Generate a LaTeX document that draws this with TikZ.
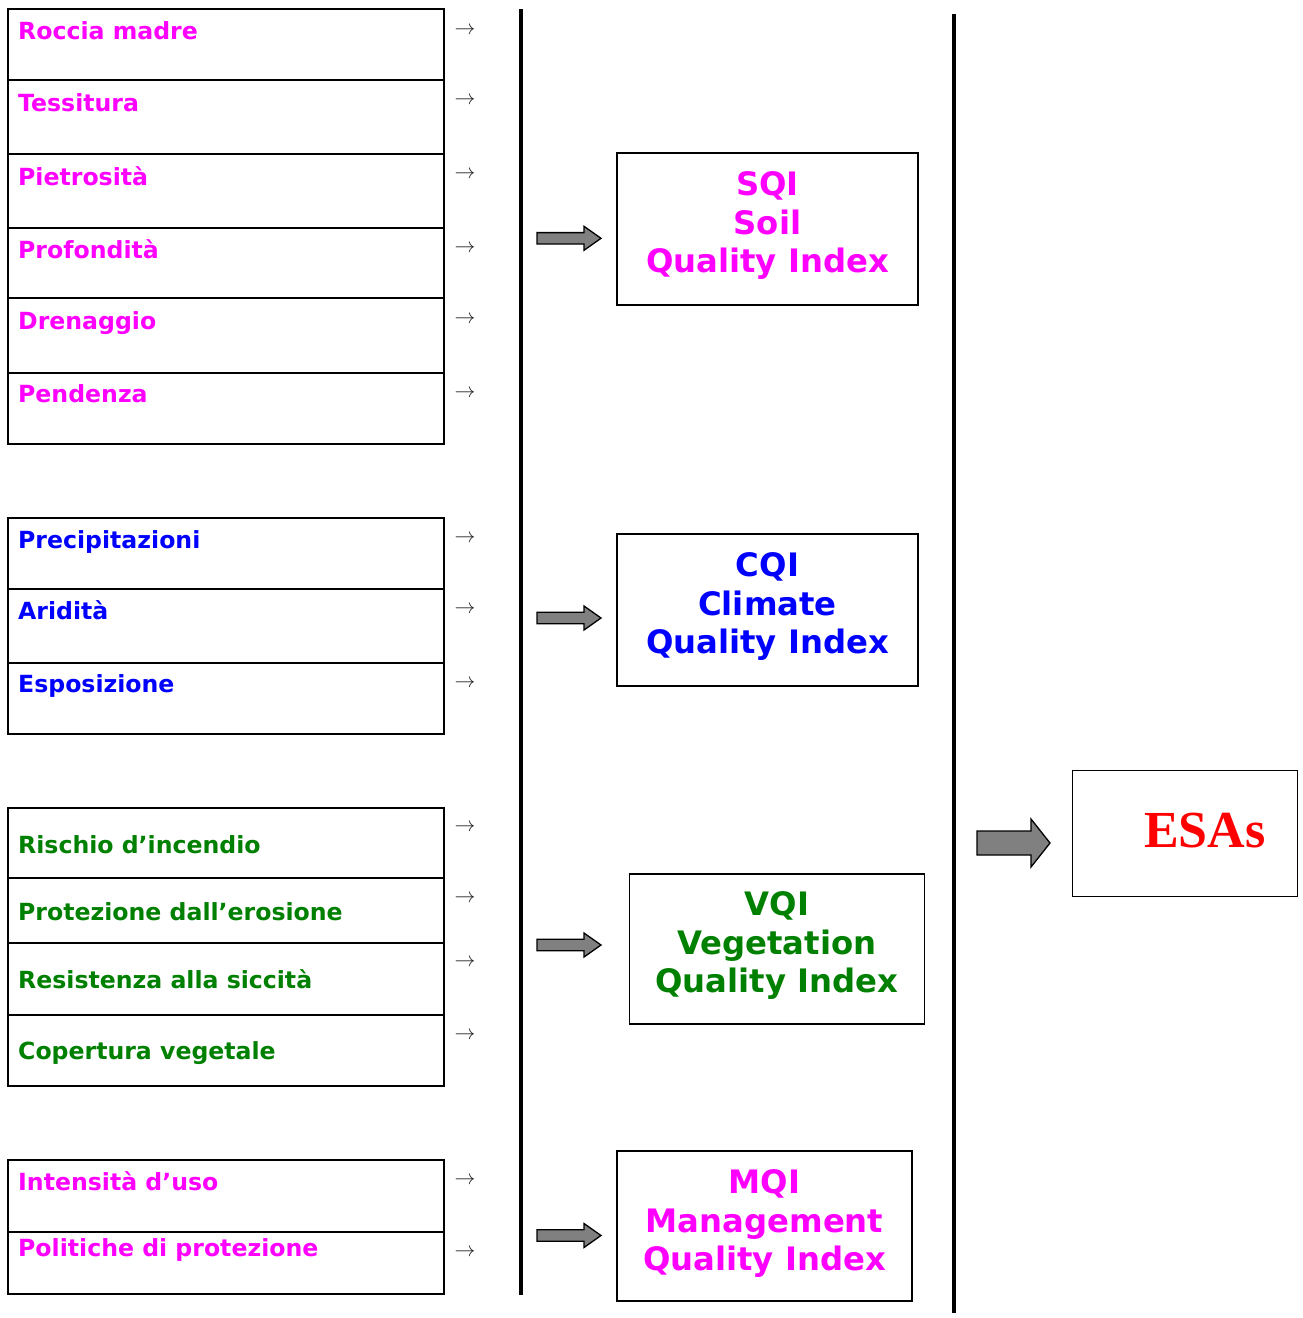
\documentclass[tikz,border=0pt]{standalone}
\usepackage{fontspec}
\newfontfamily\vfont{DejaVu Sans}
\newfontfamily\tfont{Liberation Serif}
\definecolor{soilmag}{HTML}{FF00FF}
\definecolor{climblue}{HTML}{0000FF}
\definecolor{veggreen}{HTML}{008000}
\definecolor{esared}{HTML}{FF0000}
\definecolor{arrgray}{HTML}{202020}
\definecolor{blockgray}{HTML}{808080}
\tikzset{
  rowbox/.style={draw, line width=2pt, minimum width=436pt, anchor=north west, inner sep=0pt, outer sep=0pt},
  rowtext/.style={anchor=base west, inner sep=0pt, font=\vfont\bfseries\fontsize{23.6}{28}\selectfont},
  idxbox/.style={draw, line width=1.5pt, anchor=north west, inner sep=0pt, outer sep=0pt},
  idxtext/.style={anchor=base, inner sep=0pt, font=\vfont\bfseries\fontsize{32.3}{38}\selectfont},
  smallarr/.style={text=arrgray, inner sep=0pt, font=\fontsize{21.5}{21.5}\selectfont},
  blockarrow/.style={draw=black, fill=blockgray, line width=1.3pt, line join=miter},
  divider/.style={line width=3.5pt},
}
\begin{document}
\begin{tikzpicture}[x=1pt,y=-1pt]
\useasboundingbox (0,0) rectangle (1302,1318);
% ---------- Soil group ----------
\node[rowbox, minimum height=71pt] (r1) at (8,9) {};
\node[rowbox, minimum height=74pt] (r2) at (8,80) {};
\node[rowbox, minimum height=74pt] (r3) at (8,154) {};
\node[rowbox, minimum height=70pt] (r4) at (8,228) {};
\node[rowbox, minimum height=75pt] (r5) at (8,298) {};
\node[rowbox, minimum height=71pt] (r6) at (8,373) {};
\node[rowtext, text=soilmag] (t1) at (18,39) {Roccia madre};
\node[rowtext, text=soilmag] (t2) at (18,111) {Tessitura};
\node[rowtext, text=soilmag] (t3) at (18,185) {Pietrosità};
\node[rowtext, text=soilmag] (t4) at (18,258) {Profondità};
\node[rowtext, text=soilmag] (t5) at (18,329) {Drenaggio};
\node[rowtext, text=soilmag] (t6) at (18,402) {Pendenza};
% ---------- Climate group ----------
\node[rowbox, minimum height=71pt] (r7) at (8,518) {};
\node[rowbox, minimum height=74pt] (r8) at (8,589) {};
\node[rowbox, minimum height=71pt] (r9) at (8,663) {};
\node[rowtext, text=climblue] (t7) at (18,548) {Precipitazioni};
\node[rowtext, text=climblue] (t8) at (18,619.5) {Aridità};
\node[rowtext, text=climblue] (t9) at (18,692) {Esposizione};
% ---------- Vegetation group ----------
\node[rowbox, minimum height=70pt] (r10) at (8,808) {};
\node[rowbox, minimum height=65pt] (r11) at (8,878) {};
\node[rowbox, minimum height=72pt] (r12) at (8,943) {};
\node[rowbox, minimum height=71pt] (r13) at (8,1015) {};
\node[rowtext, text=veggreen] (t10) at (18,853) {Rischio d’incendio};
\node[rowtext, text=veggreen] (t11) at (18,920) {Protezione dall’erosione};
\node[rowtext, text=veggreen] (t12) at (18,988.5) {Resistenza alla siccità};
\node[rowtext, text=veggreen] (t13) at (18,1059.5) {Copertura vegetale};
% ---------- Management group ----------
\node[rowbox, minimum height=72pt] (r14) at (8,1160) {};
\node[rowbox, minimum height=62pt] (r15) at (8,1232) {};
\node[rowtext, text=soilmag] (t14) at (18,1190.5) {Intensità d’uso};
\node[rowtext, text=soilmag] (t15) at (18,1256.5) {Politiche di protezione};
% ---------- small arrows ----------
\foreach \yy/\nm in {30.3/a1,101/a2,175/a3,249/a4,319.7/a5,393.7/a6,538.7/a7,609.3/a8,683.7/a9,827.7/a10,898.7/a11,963/a12,1036/a13,1180.7/a14,1253/a15}
  \node[smallarr] (\nm) at (465,\yy) {$\rightarrow$};
% ---------- dividers ----------
\coordinate (d1t) at (521,9);
\coordinate (d1b) at (521,1295);
\coordinate (d2t) at (954,14);
\coordinate (d2b) at (954,1313);
\draw[divider] (d1t) -- (d1b);
\draw[divider] (d2t) -- (d2b);
% ---------- index boxes ----------
\node[idxbox, minimum width=301pt, minimum height=152pt] (sqi) at (617,153) {};
\node[idxtext, text=soilmag] (sqi1) at (767.5,195) {SQI};
\node[idxtext, text=soilmag] (sqi2) at (767.5,234) {Soil};
\node[idxtext, text=soilmag] (sqi3) at (767.5,272.5) {Quality Index};
\node[idxbox, minimum width=301pt, minimum height=152pt] (cqi) at (617,534) {};
\node[idxtext, text=climblue] (cqi1) at (767.5,576) {CQI};
\node[idxtext, text=climblue] (cqi2) at (767.5,615) {Climate};
\node[idxtext, text=climblue] (cqi3) at (767.5,653.5) {Quality Index};
\node[idxbox, minimum width=295pt, minimum height=150pt] (vqi) at (629.3,874) {};
\node[idxtext, text=veggreen] (vqi1) at (776.8,915) {VQI};
\node[idxtext, text=veggreen] (vqi2) at (776.8,954) {Vegetation};
\node[idxtext, text=veggreen] (vqi3) at (776.8,992.5) {Quality Index};
\node[idxbox, minimum width=295pt, minimum height=150pt] (mqi) at (617,1151) {};
\node[idxtext, text=soilmag] (mqi1) at (764.5,1193) {MQI};
\node[idxtext, text=soilmag] (mqi2) at (764.5,1232) {Management};
\node[idxtext, text=soilmag] (mqi3) at (764.5,1270.5) {Quality Index};
% ---------- ESAs box ----------
\node[idxbox, minimum width=225pt, minimum height=126pt] (esa) at (1072.7,770.7) {};
\node[anchor=base, inner sep=0pt, text=esared, font=\tfont\bfseries\fontsize{52}{60}\selectfont] (esatext) at (1205,847) {ESAs};
% ---------- block arrows ----------
\foreach \yy in {238.3,618,945,1235.5}
  \draw[blockarrow, shift={(537,\yy)}] (0,-5.7) -- (47,-5.7) -- (47,-12) -- (64,0) -- (47,12) -- (47,5.7) -- (0,5.7) -- cycle;
\draw[blockarrow, shift={(977,843)}] (0,-12) -- (54,-12) -- (54,-24) -- (73,0) -- (54,24) -- (54,12) -- (0,12) -- cycle;
\end{tikzpicture}
\end{document}
